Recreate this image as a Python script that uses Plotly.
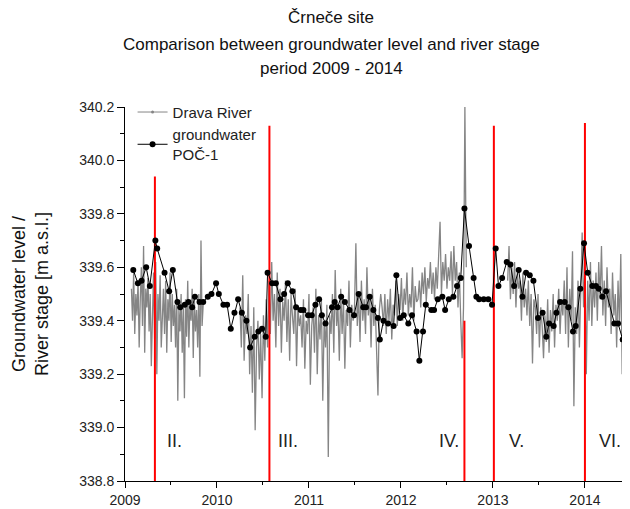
import numpy as np
import plotly.graph_objects as go

# ---------------- data ----------------
title_lines = ["Črneče site",
               "Comparison between groundwater level and river stage",
               "period 2009 - 2014"]
y_title_lines = ["Groundwater level /", "River stage [m a.s.l.]"]
x_ticks = [2009, 2010, 2011, 2012, 2013, 2014]
x_tick_labels = ["2009", "2010", "2011", "2012", "2013", "2014"]

# groundwater POČ-1 (decimal year, m a.s.l.)
gw_year = [2009.09, 2009.14, 2009.18, 2009.23, 2009.27, 2009.33, 2009.35, 2009.43, 2009.48, 2009.52,
           2009.57, 2009.60, 2009.65, 2009.69, 2009.73, 2009.76, 2009.81, 2009.85, 2009.90, 2009.94,
           2009.99, 2010.02, 2010.07, 2010.11, 2010.15, 2010.19, 2010.23, 2010.27, 2010.32, 2010.36,
           2010.41, 2010.45, 2010.49, 2010.53, 2010.55, 2010.60, 2010.64, 2010.69, 2010.73, 2010.77,
           2010.82, 2010.86, 2010.91, 2010.94, 2010.99, 2011.03, 2011.07, 2011.11, 2011.14, 2011.18,
           2011.25, 2011.28, 2011.31, 2011.35, 2011.39, 2011.44, 2011.49, 2011.54, 2011.59, 2011.62,
           2011.66, 2011.70, 2011.75, 2011.77, 2011.81, 2011.86, 2011.92, 2011.95, 2011.99, 2012.03,
           2012.08, 2012.12, 2012.17, 2012.20, 2012.24, 2012.27, 2012.33, 2012.36, 2012.40, 2012.45,
           2012.48, 2012.52, 2012.57, 2012.61, 2012.65, 2012.69, 2012.74, 2012.79, 2012.82, 2012.85,
           2012.90, 2012.95, 2012.99, 2013.03, 2013.06, 2013.10, 2013.15, 2013.19, 2013.23, 2013.28,
           2013.32, 2013.36, 2013.40, 2013.44, 2013.49, 2013.54, 2013.58, 2013.61, 2013.66, 2013.69,
           2013.73, 2013.78, 2013.82, 2013.87, 2013.90, 2013.95, 2013.99, 2014.03, 2014.08, 2014.12,
           2014.15, 2014.19, 2014.23, 2014.32, 2014.36, 2014.41, 2014.44, 2014.49]
gw_level = [339.59, 339.54, 339.55, 339.60, 339.53, 339.70, 339.67, 339.58, 339.51, 339.59,
            339.47, 339.45, 339.46, 339.47, 339.45, 339.49, 339.47, 339.47, 339.49, 339.50,
            339.54, 339.50, 339.46, 339.46, 339.37, 339.43, 339.48, 339.43, 339.40, 339.30,
            339.34, 339.36, 339.37, 339.34, 339.58, 339.54, 339.54, 339.48, 339.50, 339.54,
            339.51, 339.45, 339.44, 339.44, 339.42, 339.42, 339.46, 339.48, 339.42, 339.39,
            339.45, 339.47, 339.45, 339.49, 339.47, 339.44, 339.42, 339.50, 339.45, 339.45,
            339.49, 339.44, 339.41, 339.33, 339.40, 339.39, 339.38, 339.57, 339.41, 339.42,
            339.39, 339.42, 339.36, 339.25, 339.36, 339.46, 339.44, 339.44, 339.48, 339.49,
            339.44, 339.48, 339.49, 339.53, 339.56, 339.82, 339.68, 339.56, 339.49, 339.48,
            339.48, 339.48, 339.46, 339.67, 339.53, 339.56, 339.62, 339.61, 339.53, 339.59,
            339.49, 339.58, 339.57, 339.55, 339.41, 339.43, 339.34, 339.39, 339.38, 339.43,
            339.47, 339.47, 339.45, 339.36, 339.38, 339.52, 339.69, 339.58, 339.53, 339.53,
            339.52, 339.49, 339.51, 339.39, 339.39, 339.33, 339.39, 339.47]

# Drava River stage, three recorded periods (start year, sampling step in years, values)
river_a_start, river_a_step = 2009.07, 0.012
river_a = [339.52, 339.40, 339.58, 339.35, 339.50, 339.42, 339.55, 339.30, 339.48, 339.60,
           339.38, 339.68, 339.28, 339.52, 339.45, 339.56, 339.36, 339.50, 339.23, 339.47,
           339.58, 339.33, 339.62, 339.20, 339.50, 339.40, 339.57, 339.30, 339.45, 339.52,
           339.35, 339.55, 339.28, 339.48, 339.40, 339.58, 339.32, 339.50, 339.38, 339.46,
           339.30, 339.52, 339.10, 339.44, 339.36, 339.50, 339.28, 339.45, 339.11, 339.48,
           339.34, 339.55, 339.30, 339.46, 339.40, 339.52, 339.26, 339.48, 339.36, 339.44,
           339.30, 339.50, 339.19, 339.70, 339.38, 339.46]
river_b_start, river_b_step = 2010.25, 0.015
river_b = [339.45, 339.30, 339.57, 339.25, 339.42, 339.35, 339.50, 339.20, 339.38, 339.13,
           339.45, 338.99, 339.30, 339.40, 339.18, 339.35, 339.11, 339.42, 339.25, 339.48, 339.30,
           339.55, 339.35, 339.62, 339.40, 339.50, 339.30, 339.58, 339.38, 339.52, 339.28,
           339.47, 339.40, 339.55, 339.32, 339.48, 339.25, 339.50, 339.42, 339.35, 339.52,
           339.23, 339.45, 339.38,
           339.42, 339.30, 339.48, 339.22, 339.40, 339.35, 339.50, 339.16, 339.38, 339.45,
           339.28, 339.52, 339.20, 339.42, 339.33, 339.48, 339.10, 339.40, 339.30, 339.46,
           338.89, 339.42, 339.35, 339.50, 339.28, 339.59, 339.38, 339.45, 339.25, 339.52,
           339.35, 339.48, 339.22, 339.44, 339.38, 339.55, 339.30, 339.46, 339.40,
           339.45, 339.69, 339.38, 339.50, 339.32, 339.55, 339.40, 339.48, 339.35, 339.60,
           339.42, 339.50, 339.30, 339.52, 339.38, 339.46, 339.28, 339.12, 339.44, 339.50,
           339.45, 339.38, 339.50, 339.35, 339.48, 339.40, 339.52, 339.33, 339.46, 339.42,
           339.55, 339.38, 339.50, 339.44, 339.56, 339.40, 339.52, 339.46, 339.58, 339.42,
           339.50, 339.45, 339.60, 339.40, 339.53, 339.47,
           339.48, 339.55, 339.45, 339.58, 339.50, 339.60, 339.47, 339.56, 339.52, 339.62,
           339.50, 339.58, 339.48, 339.60, 339.52, 339.62, 339.77, 339.50, 339.62, 339.55,
           339.65, 339.52, 339.60, 339.55, 339.66, 339.50, 339.68, 339.55, 339.62, 339.45,
           339.58, 339.40, 339.26, 339.45, 340.20, 339.60]
river_c_start, river_c_step = 2013.16, 0.015
river_c = [339.55, 339.68, 339.48, 339.60, 339.50, 339.62, 339.45, 339.58, 339.52, 339.55,
           339.40, 339.58, 339.45, 339.52, 339.42, 339.55, 339.38, 339.50, 339.24, 339.48,
           339.45, 339.35, 339.50, 339.30, 339.45, 339.38, 339.26, 339.42, 339.32, 339.48,
           339.28, 339.44, 339.36, 339.50, 339.30, 339.46, 339.40, 339.52, 339.35, 339.48,
           339.42, 339.55, 339.35, 339.60, 339.30, 339.52, 339.40, 339.66, 339.08, 339.45,
           339.35, 339.55, 339.30, 339.50, 339.73, 339.45, 339.60, 339.20, 339.55, 339.40,
           339.62, 339.38, 339.55,
           339.45, 339.58, 339.40, 339.62, 339.48, 339.68, 339.42, 339.55, 339.38, 339.60,
           339.45, 339.52, 339.35, 339.58, 339.42, 339.50, 339.30, 339.55, 339.38, 339.65,
           339.20, 339.48, 339.40, 339.55, 339.10, 339.45, 339.52]

# period boundaries (red markers)
period_year = [2009.325, 2010.57, 2012.69, 2013.01, 2014.0]
period_top = [339.94, 340.13, 339.40, 340.13, 340.14]
period_bottom = 338.8
period_labels = ["II.", "III.", "IV.", "V.", "VI."]
period_label_year = [2009.54, 2010.77, 2012.52, 2013.26, 2014.27]
period_label_level = 338.95

# ---------------- build ----------------
def seg(start, step, vals):
    return [start + i * step for i in range(len(vals))], list(vals)

rx, ry = [], []
for s, st, v in [(river_a_start, river_a_step, river_a),
                 (river_b_start, river_b_step, river_b),
                 (river_c_start, river_c_step, river_c)]:
    xs, ys = seg(s, st, v)
    rx += xs + [None]
    ry += ys + [None]

red_x, red_y = [], []
for yr, top in zip(period_year, period_top):
    red_x += [yr, yr, None]
    red_y += [period_bottom, top, None]

FONT = "Arial, Liberation Sans, sans-serif"
GRAY = "#858585"
fig = go.Figure()
fig.add_trace(go.Scatter(x=rx, y=ry, mode="lines", line=dict(color=GRAY, width=1.3),
                         showlegend=False, hoverinfo="skip"))
fig.add_trace(go.Scatter(x=[None], y=[None], mode="lines+markers", name="Drava River",
                         line=dict(color=GRAY, width=1),
                         marker=dict(color=GRAY, size=3)))
fig.add_trace(go.Scatter(x=red_x, y=red_y, mode="lines", line=dict(color="#ff0000", width=2),
                         showlegend=False, hoverinfo="skip"))
fig.add_trace(go.Scatter(x=gw_year, y=gw_level, mode="lines+markers", name="groundwater<br>POČ-1",
                         line=dict(color="black", width=1),
                         marker=dict(color="black", size=6)))

# plot area in figure pixels: left 117, right 622, top 99, bottom 473
PL, PR, PT, PB = 117, 622, 99, 473
def px_x(x):
    return (x - PL) / (PR - PL)
def px_y(y):
    return (PB - y) / (PB - PT)

annotations = []
for lab, yr in zip(period_labels, period_label_year):
    annotations.append(dict(x=yr, y=period_label_level, xref="x", yref="y", text=lab,
                            showarrow=False, font=dict(family=FONT, size=18, color="#222")))
title_y_px = [10, 36, 60]
for line, ypx in zip(title_lines, title_y_px):
    annotations.append(dict(x=px_x(323), y=px_y(ypx), xref="paper", yref="paper",
                            text=line, showarrow=False, xanchor="center", yanchor="middle",
                            font=dict(family=FONT, size=17, color="#111")))
annotations.append(dict(x=px_x(22), y=0.5, xref="paper", yref="paper",
                        text="<br>".join(y_title_lines), textangle=-90, showarrow=False,
                        xanchor="center", yanchor="middle",
                        font=dict(family=FONT, size=18, color="#111")))

fig.update_layout(
    width=622, height=501,
    margin=dict(l=PL, r=0, t=PT, b=501 - PB, pad=0),
    paper_bgcolor="white", plot_bgcolor="white",
    font=dict(family=FONT, size=14, color="#222"),
    showlegend=True,
    legend=dict(x=0.015, y=1.03, xanchor="left", yanchor="top", bgcolor="rgba(0,0,0,0)",
                font=dict(family=FONT, size=15, color="#222"), tracegroupgap=0,
                itemwidth=30),
    annotations=annotations,
    xaxis=dict(range=[2009, 2014.49], tickvals=x_ticks, ticktext=x_tick_labels,
               showline=True, linecolor="black", linewidth=1, ticks="outside", ticklen=6,
               tickcolor="black", showgrid=False, zeroline=False,
               minor=dict(ticks="outside", ticklen=3, tickcolor="black", dtick=0.5, tick0=2009,
                          showgrid=False),
               tickfont=dict(family=FONT, size=14, color="#222")),
    yaxis=dict(range=[338.8, 340.2], dtick=0.2, tick0=338.8, tickformat=".1f",
               showline=True, linecolor="black", linewidth=1, ticks="outside", ticklen=7,
               tickcolor="black", showgrid=False, zeroline=False,
               minor=dict(ticks="outside", ticklen=4, tickcolor="black", dtick=0.1, tick0=338.8,
                          showgrid=False),
               tickfont=dict(family=FONT, size=14, color="#222")),
)

fig.write_html("out.html")
